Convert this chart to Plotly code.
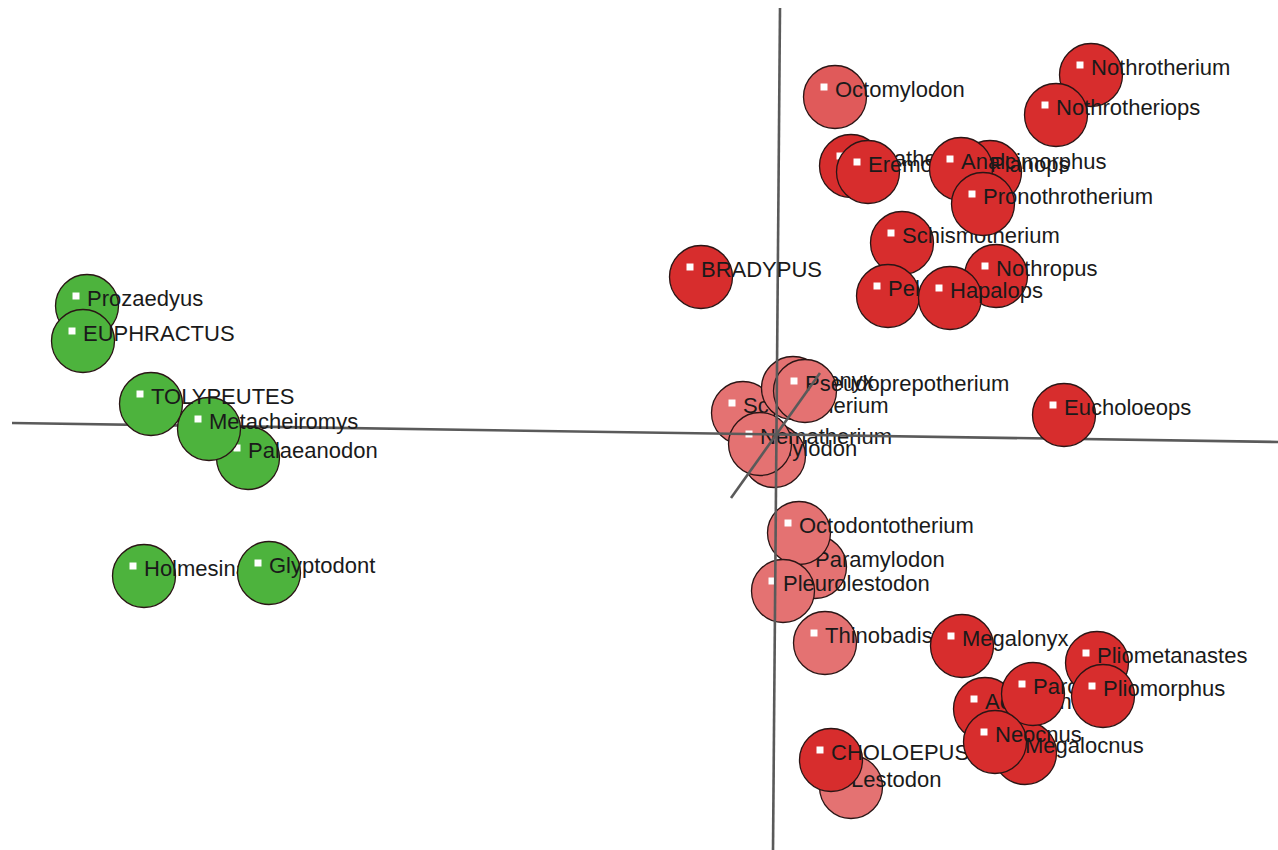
import plotly.graph_objects as go

# Ordination scores of the xenarthran taxa (axis 1, axis 2), listed in drawing order
taxa = [
    "Scelidotherium", "Mylodon", "Catonyx", "Pseudoprepotherium", "Nematherium",
    "Paramylodon", "Octodontotherium", "Pleurolestodon", "Thinobadistes",
    "Prozaedyus", "EUPHRACTUS", "Holmesina", "Glyptodont", "Palaeanodon",
    "Metacheiromys", "TOLYPEUTES",
    "BRADYPUS", "Octomylodon", "Nothrotherium", "Nothrotheriops", "Megatherium",
    "Eremotherium", "Planops", "Analcimorphus", "Schismotherium", "Pronothrotherium",
    "Pelecyodon", "Nothropus", "Hapalops", "Eucholoeops",
    "Megalonyx", "Lestodon", "CHOLOEPUS", "Megalocnus", "Acratocnus", "Parocnus",
    "Neocnus", "Pliometanastes", "Pliomorphus",
]
axis1 = [
    -0.33, -0.02, 0.17, 0.29, -0.16,
    0.39, 0.23, 0.07, 0.49,
    -6.89, -6.93, -6.32, -5.07, -5.28,
    -5.67, -6.25,
    -0.75, 0.59, 3.15, 2.80, 0.75,
    0.92, 2.14, 1.85, 1.26, 2.07,
    1.12, 2.20, 1.74, 2.88,
    1.86, 0.75, 0.55, 2.49, 2.09, 2.57,
    2.19, 3.21, 3.27,
]
axis2 = [
    0.22, -0.21, 0.47, 0.44, -0.09,
    -1.32, -0.98, -1.56, -2.08,
    1.29, 0.94, -1.41, -1.38, -0.23,
    0.06, 0.31,
    1.58, 3.38, 3.60, 3.20, 2.69,
    2.63, 2.63, 2.66, 1.92, 2.31,
    1.39, 1.59, 1.37, 0.20,
    -2.11, -3.52, -3.25, -3.18, -2.74, -2.59,
    -3.07, -2.28, -2.61,
]
tone = [
    "pink", "pink", "pink", "pink", "pink",
    "pink", "pink", "pink", "pink",
    "green", "green", "green", "green", "green",
    "green", "green",
    "red", "rose", "red", "red", "red",
    "red", "red", "red", "red", "red",
    "red", "red", "red", "red",
    "red", "pink", "red", "red", "red", "red",
    "red", "red", "red",
]

# Projected ordination axes (axis 1, axis 2 and the oblique axis 3)
axis_lines = {
    "h": ([-7.64, 5.02], [0.12, -0.07]),
    "v": ([0.04, -0.03], [4.27, -4.15]),
    "d": ([-0.45, 0.44], [-0.63, 0.62]),
}
# taxa drawn before the axes lines
n_under_axes = 9

palette = {
    "green": "#4DB33D",
    "red": "#D72D2D",
    "rose": "#E05A5A",
    "pink": "#E47272",
}

BALL = 63          # circle diameter, px
UNIT = 100.0       # px per ordination unit
SPOT_DX, SPOT_DY = -11 / UNIT, 10 / UNIT
LABEL_DX, LABEL_DY = 0 / UNIT, 6 / UNIT

fig = go.Figure()


def add_axes():
    for xs, ys in axis_lines.values():
        fig.add_trace(go.Scatter(
            x=xs, y=ys, mode="lines",
            line=dict(color="#5a5a5a", width=2.6),
            hoverinfo="skip",
        ))


for i, (name, x, y, t) in enumerate(zip(taxa, axis1, axis2, tone)):
    if i == n_under_axes:
        add_axes()
    fig.add_trace(go.Scatter(
        x=[x, x + SPOT_DX], y=[y, y + SPOT_DY],
        mode="markers",
        marker=dict(
            size=[BALL, 7],
            symbol=["circle", "square"],
            color=[palette[t], "#ffffff"],
            opacity=1,
            line=dict(color=["#2a1515", "#ffffff"], width=[1.3, 0]),
        ),
        hoverinfo="skip",
    ))
    fig.add_trace(go.Scatter(
        x=[x + LABEL_DX], y=[y + LABEL_DY],
        mode="text", text=[name], textposition="middle right",
        textfont=dict(family="Liberation Sans, Arial, sans-serif", size=22, color="#1a1a1a"),
        hoverinfo="skip",
    ))

fig.update_layout(
    width=1278, height=850,
    margin=dict(l=0, r=0, t=0, b=0),
    paper_bgcolor="white", plot_bgcolor="white",
    showlegend=False,
    xaxis=dict(range=[-7.76, 5.02], visible=False, fixedrange=True),
    yaxis=dict(range=[-4.15, 4.35], visible=False, fixedrange=True),
)

fig.write_html("out.html")
